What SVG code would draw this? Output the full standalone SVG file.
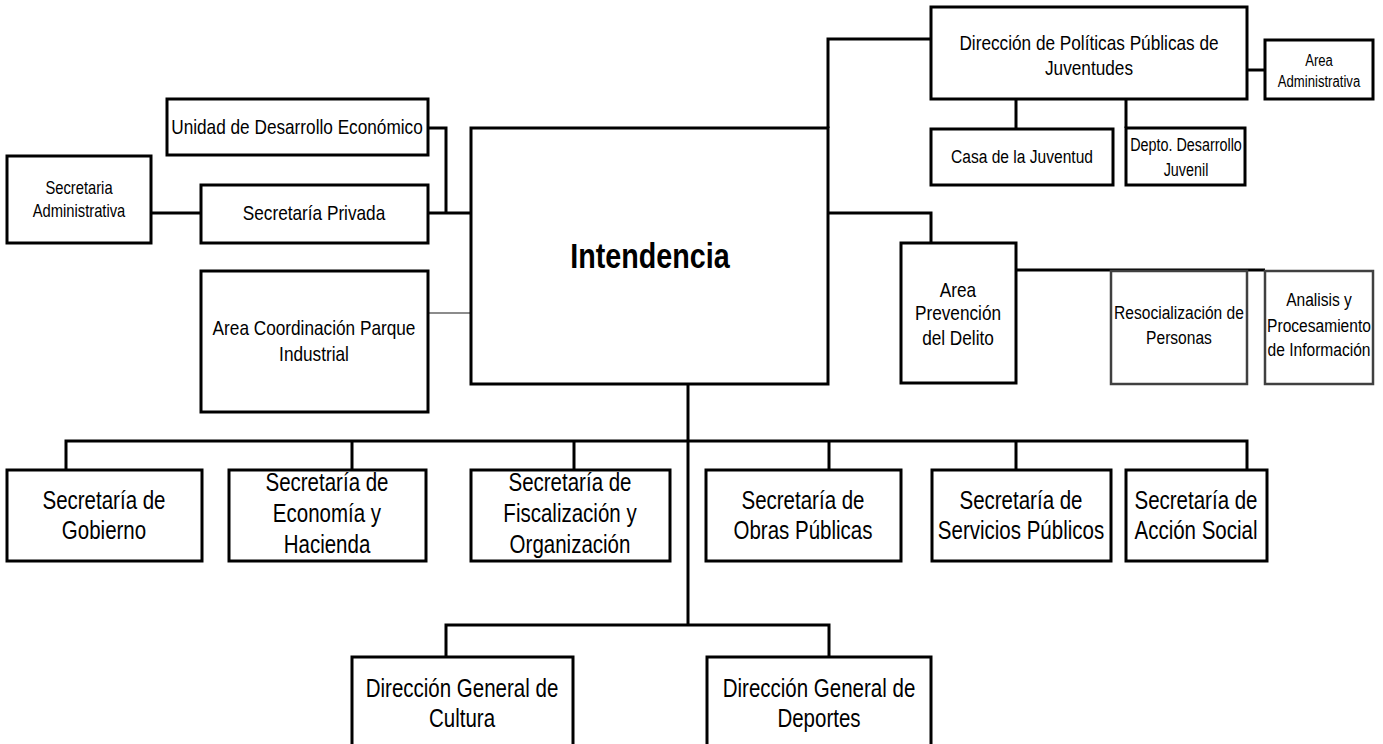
<svg xmlns="http://www.w3.org/2000/svg" width="1383" height="744" viewBox="0 0 1383 744">
  <style>
    .box { fill: #ffffff; stroke: #000000; stroke-width: 3; }
    .box-gray { fill: #ffffff; stroke: #404040; stroke-width: 2.5; }
    .link { fill: none; stroke: #000000; stroke-width: 3; }
    .link-thin { fill: none; stroke: #666666; stroke-width: 1.5; }
    text { font-family: 'Liberation Sans', Arial, sans-serif; fill: #000000; text-anchor: middle; }
    .t16 { font-size: 16px; }
    .t17 { font-size: 17.5px; }
    .t18 { font-size: 18px; }
    .t19 { font-size: 19px; }
    .t21 { font-size: 21px; }
    .t25 { font-size: 25px; }
    .title { font-size: 35px; font-weight: bold; }
  </style>
  <rect width="1383" height="744" fill="#ffffff"/>

  <g id="connectors">
    <path class="link" d="M151,213 H201"/>
    <path class="link" d="M428,213 H471"/>
    <path class="link" d="M428,128 H446 V213"/>
    <path class="link-thin" d="M428,313 H471"/>
    <path class="link" d="M828,128 V39 H931"/>
    <path class="link" d="M828,213 H931 V243"/>
    <path class="link" d="M1247,70 H1265"/>
    <path class="link" d="M1016,99 V129"/>
    <path class="link" d="M1126,99 V128"/>
    <path class="link" d="M1016,270 H1265"/>
    <path class="link" d="M688,384 V625"/>
    <path class="link" d="M66,470 V441 H1247 V470"/>
    <path class="link" d="M352,441 V470"/>
    <path class="link" d="M574,441 V470"/>
    <path class="link" d="M829,441 V470"/>
    <path class="link" d="M1016,441 V470"/>
    <path class="link" d="M446,657 V625 H829 V657"/>
  </g>

  <!-- labels use a condensed sans: horizontal scale 0.82 -->
  <g id="intendencia">
    <rect class="box" x="471" y="128" width="357" height="256"/>
    <text class="title" transform="translate(650 268) scale(0.82 1)">Intendencia</text>
  </g>

  <g id="unidad-desarrollo">
    <rect class="box" x="167" y="99" width="261" height="56"/>
    <text class="t21" transform="translate(297 134) scale(0.82 1)">Unidad de Desarrollo Económico</text>
  </g>

  <g id="secretaria-administrativa">
    <rect class="box" x="7" y="156" width="144" height="87"/>
    <text class="t18" transform="translate(79 194) scale(0.82 1)">Secretaria</text>
    <text class="t18" transform="translate(79 217) scale(0.82 1)">Administrativa</text>
  </g>

  <g id="secretaria-privada">
    <rect class="box" x="201" y="185" width="227" height="58"/>
    <text class="t21" transform="translate(314 220) scale(0.82 1)">Secretaría Privada</text>
  </g>

  <g id="area-parque-industrial">
    <rect class="box" x="201" y="271" width="227" height="141"/>
    <text class="t21" transform="translate(314 335) scale(0.82 1)">Area Coordinación Parque</text>
    <text class="t21" transform="translate(314 361) scale(0.82 1)">Industrial</text>
  </g>

  <g id="direccion-juventudes">
    <rect class="box" x="931" y="7" width="316" height="92"/>
    <text class="t21" transform="translate(1089 50) scale(0.82 1)">Dirección de Políticas Públicas de</text>
    <text class="t21" transform="translate(1089 75) scale(0.82 1)">Juventudes</text>
  </g>

  <g id="area-administrativa">
    <rect class="box" x="1265" y="40" width="108" height="59"/>
    <text class="t16" transform="translate(1319 66) scale(0.82 1)">Area</text>
    <text class="t16" transform="translate(1319 87) scale(0.82 1)">Administrativa</text>
  </g>

  <g id="casa-juventud">
    <rect class="box" x="931" y="129" width="182" height="56"/>
    <text class="t19" transform="translate(1022 163) scale(0.82 1)">Casa de la Juventud</text>
  </g>

  <g id="depto-desarrollo-juvenil">
    <rect class="box" x="1126" y="128" width="119" height="57"/>
    <text class="t17" transform="translate(1186 151) scale(0.82 1)">Depto. Desarrollo</text>
    <text class="t17" transform="translate(1186 176) scale(0.82 1)">Juvenil</text>
  </g>

  <g id="area-prevencion">
    <rect class="box" x="901" y="243" width="115" height="140"/>
    <text class="t21" transform="translate(958 297) scale(0.82 1)">Area</text>
    <text class="t21" transform="translate(958 320) scale(0.82 1)">Prevención</text>
    <text class="t21" transform="translate(958 345) scale(0.82 1)">del Delito</text>
  </g>

  <g id="resocializacion">
    <rect class="box-gray" x="1111" y="271" width="136" height="113"/>
    <text class="t19" transform="translate(1179 319) scale(0.82 1)">Resocialización de</text>
    <text class="t19" transform="translate(1179 344) scale(0.82 1)">Personas</text>
  </g>

  <g id="analisis-informacion">
    <rect class="box-gray" x="1265" y="271" width="108" height="113"/>
    <text class="t19" transform="translate(1319 306) scale(0.82 1)">Analisis y</text>
    <text class="t19" transform="translate(1319 332) scale(0.82 1)">Procesamiento</text>
    <text class="t19" transform="translate(1319 356) scale(0.82 1)">de Información</text>
  </g>

  <g id="secretaria-gobierno">
    <rect class="box" x="7" y="470" width="195" height="91"/>
    <text class="t25" transform="translate(104 509) scale(0.82 1)">Secretaría de</text>
    <text class="t25" transform="translate(104 539) scale(0.82 1)">Gobierno</text>
  </g>

  <g id="secretaria-economia">
    <rect class="box" x="229" y="470" width="197" height="91"/>
    <text class="t25" transform="translate(327 491) scale(0.82 1)">Secretaría de</text>
    <text class="t25" transform="translate(327 522) scale(0.82 1)">Economía y</text>
    <text class="t25" transform="translate(327 553) scale(0.82 1)">Hacienda</text>
  </g>

  <g id="secretaria-fiscalizacion">
    <rect class="box" x="471" y="470" width="199" height="91"/>
    <text class="t25" transform="translate(570 491) scale(0.82 1)">Secretaría de</text>
    <text class="t25" transform="translate(570 522) scale(0.82 1)">Fiscalización y</text>
    <text class="t25" transform="translate(570 553) scale(0.82 1)">Organización</text>
  </g>

  <g id="secretaria-obras">
    <rect class="box" x="706" y="470" width="195" height="91"/>
    <text class="t25" transform="translate(803 509) scale(0.82 1)">Secretaría de</text>
    <text class="t25" transform="translate(803 539) scale(0.82 1)">Obras Públicas</text>
  </g>

  <g id="secretaria-servicios">
    <rect class="box" x="932" y="470" width="179" height="91"/>
    <text class="t25" transform="translate(1021 509) scale(0.82 1)">Secretaría de</text>
    <text class="t25" transform="translate(1021 539) scale(0.82 1)">Servicios Públicos</text>
  </g>

  <g id="secretaria-accion-social">
    <rect class="box" x="1126" y="470" width="141" height="91"/>
    <text class="t25" transform="translate(1196 509) scale(0.82 1)">Secretaría de</text>
    <text class="t25" transform="translate(1196 539) scale(0.82 1)">Acción Social</text>
  </g>

  <g id="direccion-cultura">
    <rect class="box" x="352" y="657" width="221" height="110"/>
    <text class="t25" transform="translate(462 697) scale(0.82 1)">Dirección General de</text>
    <text class="t25" transform="translate(462 727) scale(0.82 1)">Cultura</text>
  </g>

  <g id="direccion-deportes">
    <rect class="box" x="707" y="657" width="224" height="110"/>
    <text class="t25" transform="translate(819 697) scale(0.82 1)">Dirección General de</text>
    <text class="t25" transform="translate(819 727) scale(0.82 1)">Deportes</text>
  </g>
</svg>
